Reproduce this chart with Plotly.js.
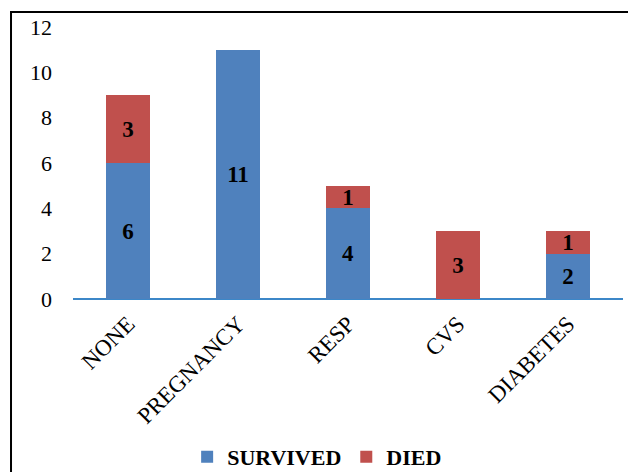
<!DOCTYPE html>
<html>
<head>
<meta charset="utf-8">
<script src="https://cdn.plot.ly/plotly-3.0.1.min.js"></script>
<style>html,body{margin:0;padding:0;background:#fff;}#chart{width:628px;height:472px;}</style>
</head>
<body>
<div id="chart"></div>
<script>
const categories = ["NONE", "PREGNANCY", "RESP", "CVS", "DIABETES"];
const survived = [6, 11, 4, 0, 2];
const died = [3, 0, 1, 3, 1];
const yTicks = [0, 2, 4, 6, 8, 10, 12];

const serif = "Liberation Serif";
function labels(arr){ return arr.map(v => v > 0 ? String(v) : ""); }

const traces = [
  {
    type: "bar", name: "SURVIVED", x: categories, y: survived,
    marker: {color: "#4F81BD"},
    text: labels(survived), textposition: "inside", insidetextanchor: "middle",
    textangle: 0, constraintext: "none",
    textfont: {family: serif, size: 23, color: "#000", weight: "bold"},
    hoverinfo: "none"
  },
  {
    type: "bar", name: "DIED", x: categories, y: died,
    marker: {color: "#C0504D"},
    text: labels(died), textposition: "inside", insidetextanchor: "middle",
    textangle: 0, constraintext: "none",
    textfont: {family: serif, size: 23, color: "#000", weight: "bold"},
    hoverinfo: "none"
  }
];

const layout = {
  width: 628, height: 472,
  barmode: "stack", bargap: 0.6,
  margin: {l: 73, r: 5, t: 27, b: 173},
  paper_bgcolor: "#fff", plot_bgcolor: "#fff",
  font: {family: serif, size: 22, color: "#000"},
  xaxis: {
    tickangle: -45, showgrid: false, showline: false, ticks: "",
    zeroline: false, automargin: false, ticklabelstandoff: 6,
    tickfont: {family: serif, size: 23, color: "#000"}
  },
  yaxis: {
    range: [0, 12], tickvals: yTicks, showgrid: false, showline: false,
    zeroline: true, zerolinecolor: "#3C87C8", zerolinewidth: 2.5,
    ticks: "", ticklabelstandoff: 20, automargin: false,
    tickfont: {family: serif, size: 22, color: "#000"}
  },
  showlegend: true,
  legend: {
    orientation: "h", xref: "container", yref: "container",
    x: 0.505, xanchor: "center", y: 0.032, yanchor: "middle",
    font: {family: serif, size: 22, color: "#000", weight: "bold"},
    itemwidth: 30, traceorder: "normal"
  },
  shapes: [{
    type: "rect", xref: "paper", yref: "paper",
    x0: -0.1127, x1: 1.2, y0: -1, y1: 1.055,
    line: {color: "#000", width: 2}, fillcolor: "rgba(0,0,0,0)", layer: "above"
  }]
};

Plotly.newPlot("chart", traces, layout, {displayModeBar: false, staticPlot: true});
</script>
</body>
</html>
